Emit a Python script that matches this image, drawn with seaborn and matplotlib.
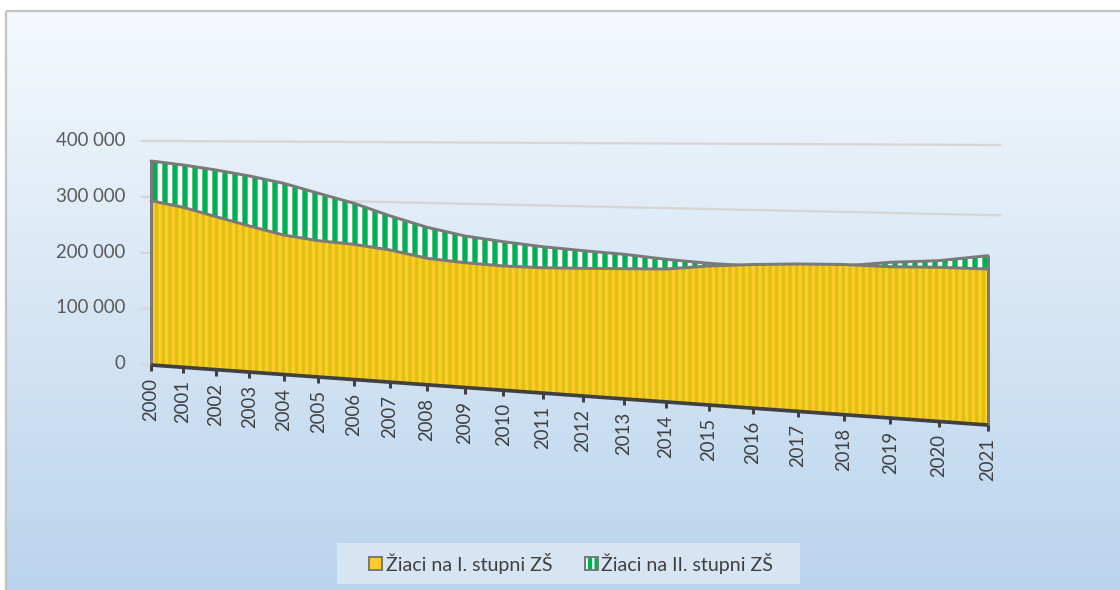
import numpy as np
import pandas as pd
import matplotlib
matplotlib.use("Agg")
import matplotlib.pyplot as plt
import matplotlib.transforms as mtransforms
from matplotlib.path import Path
from matplotlib.patches import Patch, Rectangle
from matplotlib.colors import LinearSegmentedColormap
import seaborn as sns

# data (pupils, basic schools)
years = list(range(2000, 2022))
stupen_1 = [293400, 283000, 268000, 253400, 239600, 231800, 227700, 220300, 208700, 203800, 200800,
            200400, 201900, 203800, 205700, 212800, 217400, 220600, 222200, 221300, 222900, 222900]
stupen_2 = [364300, 357800, 349700, 340100, 328400, 312400, 296800, 277000, 259800, 247400, 240000,
            234000, 229800, 226300, 220700, 216900, 215000, 216000, 220000, 227800, 232400, 241900]
y_ticks = [0, 100000, 200000, 300000, 400000]
y_tick_labels = ["0", "100 000", "200 000", "300 000", "400 000"]
series_labels = ["Žiaci na I. stupni ZŠ", "Žiaci na II. stupni ZŠ"]

# colours
YELLOW = "#FFCA2C"
YELLOW_STRIPE = "#DCC10E"
GREEN = "#00B050"
OUTLINE = "#7A7A7A"
AXIS = "#404040"

# perspective of the 3D area chart (pixel layout of the front plane)
X0, Y0 = 151.0, 365.0      # year 2000, value 0
DX, DY = 30.44, -1.19      # step per year before perspective division
PX_PER_VAL = 0.00056       # pixels per pupil at the left edge
DEPTH = -0.2 / 21          # perspective factor per year


class Perspective(mtransforms.Transform):
    input_dims = 2
    output_dims = 2

    def transform_non_affine(self, values):
        values = np.asarray(values, dtype=float)
        i = values[:, 0] - years[0]
        v = values[:, 1]
        w = 1 + DEPTH * i
        return np.column_stack([(X0 + DX * i) / w, (Y0 + DY * i - PX_PER_VAL * v) / w])


sns.set_theme(style="white")
plt.rcParams["font.family"] = ["Lato", "DejaVu Sans"]
plt.rcParams["hatch.linewidth"] = 2.6

DPI = 120
fig = plt.figure(figsize=(1120 / DPI, 590 / DPI), dpi=DPI)
fig.patch.set_facecolor("white")
ax = fig.add_axes([0, 0, 1, 1])
ax.set_autoscale_on(False)
ax.set_xlim(0, 1120)
ax.set_ylim(590, 0)
ax.axis("off")

# chart area background + border
bg = LinearSegmentedColormap.from_list("bg", ["#F5F9FD", "#BAD4ED"])
ax.imshow(np.linspace(0, 1, 256)[:, None], cmap=bg, extent=(6, 1120, 590, 11),
          aspect="auto", origin="upper", zorder=0)
ax.add_patch(Rectangle((6, 11), 1130, 600, fill=False, edgecolor="#C4C4C4", lw=1.4, zorder=1))

proj = Perspective() + ax.transData

# gridlines on the back wall; the lower ones are hidden behind the areas
top_right = max(stupen_1[-1], stupen_2[-1])
for v in y_ticks:
    end = years[-1] + 0.25 if v > top_right else years[0]
    ax.plot([years[0] - 0.3, end], [v, v], transform=proj,
            color="#D6D6D6", lw=1.4, zorder=1.5)

df = pd.DataFrame({"rok": years, "I": stupen_1, "II": stupen_2})

# II. stupen (behind)
with plt.rc_context({"hatch.linewidth": 3.2}):
    ax.fill_between(df["rok"], 0, df["II"], transform=proj, facecolor="white",
                    edgecolor=GREEN, hatch="||", linewidth=0, zorder=2)
sns.lineplot(data=df, x="rok", y="II", ax=ax, color=OUTLINE, lw=1.8,
             transform=proj, zorder=2.5, legend=False)
for yr, top in [(years[0], stupen_2[0]), (years[-1], stupen_2[-1])]:
    ax.plot([yr, yr], [0, top], transform=proj, color=OUTLINE, lw=1.8, zorder=2.5)

# I. stupen (front)
with plt.rc_context({"hatch.linewidth": 2.0}):
    ax.fill_between(df["rok"], 0, df["I"], transform=proj, facecolor=YELLOW,
                    edgecolor=YELLOW_STRIPE, hatch="|||", linewidth=0, zorder=3)
sns.lineplot(data=df, x="rok", y="I", ax=ax, color=OUTLINE, lw=1.8,
             transform=proj, zorder=4, legend=False)
for yr, top in [(years[0], stupen_1[0]), (years[-1], stupen_1[-1])]:
    ax.plot([yr, yr], [0, top], transform=proj, color=OUTLINE, lw=1.8, zorder=4)

# category axis with ticks
ax.plot([years[0], years[-1]], [0, 0], transform=proj, color=AXIS, lw=2.2,
        solid_capstyle="butt", zorder=5)
ax.plot(years, [0] * len(years), transform=proj, ls="none",
        marker=Path([[0, 0], [0, -1]]), ms=7, mew=1.8, mec=AXIS, zorder=5)

label_tr = mtransforms.offset_copy(proj, fig=fig, y=-13, units="dots")
for yr in years:
    ax.text(yr, 0, str(yr), transform=label_tr, rotation=90, ha="center", va="top",
            fontsize=11.2, color=AXIS)

for v, lab in zip(y_ticks, y_tick_labels):
    ax.text(years[0] - 0.8, v, lab, transform=proj, ha="right", va="center",
            fontsize=11.2, color="#595959")

# legend box + legend
ax.add_patch(Rectangle((337, 543), 463, 41, facecolor="#D7E5F3", edgecolor="none", zorder=1))
h1 = Patch(facecolor=YELLOW, edgecolor=OUTLINE, lw=1.2)
h2 = (Patch(facecolor="white", edgecolor=GREEN, hatch="|||", lw=0),
      Patch(fill=False, edgecolor=OUTLINE, lw=1.2))
leg = fig.legend([h1, h2], series_labels, loc="center", bbox_to_anchor=(571 / 1120, 1 - 563 / 590),
                 ncol=2, fontsize=11.8, frameon=False, handlelength=0.66, handleheight=0.66,
                 handletextpad=0.2, columnspacing=1.65, borderpad=0)
for t in leg.get_texts():
    t.set_color(AXIS)

fig.savefig("out.png", dpi=DPI)
